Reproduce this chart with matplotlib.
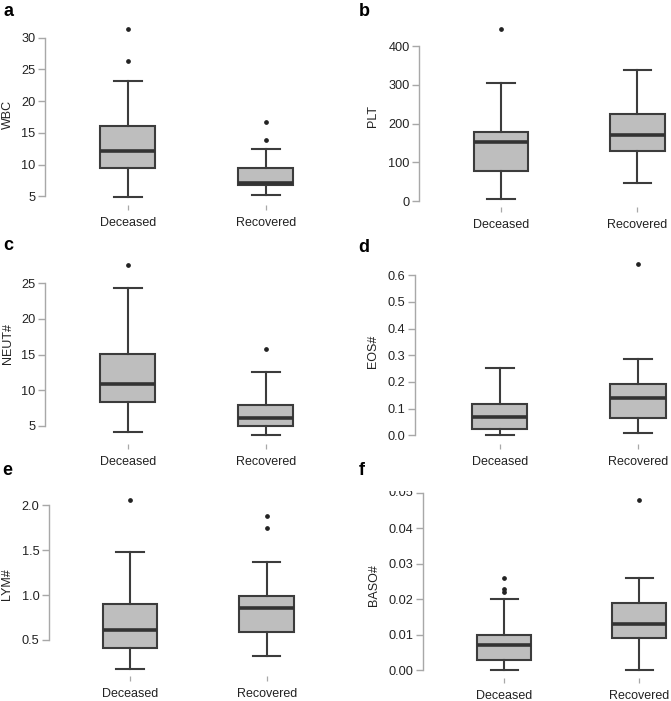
import matplotlib
matplotlib.use("Agg")
import matplotlib.pyplot as plt
from matplotlib.transforms import Bbox, TransformedBbox, offset_copy

plt.rcParams['font.family'] = ['Liberation Sans', 'DejaVu Sans']

groups = ["Deceased", "Recovered"]

# ---- data: [Deceased, Recovered] five-number summaries and outliers ----
wbc_whislo = [4.9, 5.15]
wbc_q1 = [9.5, 6.8]
wbc_med = [12.2, 7.05]
wbc_q3 = [16.1, 9.45]
wbc_whishi = [23.2, 12.5]
wbc_fliers = [[26.3, 31.4], [13.8, 16.7]]
wbc_ticks = [5, 10, 15, 20, 25, 30]

plt_whislo = [6, 47]
plt_q1 = [77, 128]
plt_med = [152, 171]
plt_q3 = [178, 225]
plt_whishi = [306, 338]
plt_fliers = [[444], []]
plt_ticks = [0, 100, 200, 300, 400]

neut_whislo = [4.1, 3.7]
neut_q1 = [8.4, 4.95]
neut_med = [10.95, 6.1]
neut_q3 = [15.15, 7.95]
neut_whishi = [24.4, 12.5]
neut_fliers = [[27.6], [15.75]]
neut_ticks = [5, 10, 15, 20, 25]

eos_whislo = [0.0, 0.009]
eos_q1 = [0.022, 0.065]
eos_med = [0.069, 0.141]
eos_q3 = [0.118, 0.192]
eos_whishi = [0.253, 0.287]
eos_fliers = [[], [0.641]]
eos_ticks = [0.0, 0.1, 0.2, 0.3, 0.4, 0.5, 0.6]

lym_whislo = [0.18, 0.325]
lym_q1 = [0.41, 0.585]
lym_med = [0.615, 0.857]
lym_q3 = [0.9, 0.995]
lym_whishi = [1.475, 1.373]
lym_fliers = [[2.063], [1.744, 1.885]]
lym_ticks = [0.5, 1.0, 1.5, 2.0]

baso_whislo = [0.0, 0.0]
baso_q1 = [0.003, 0.009]
baso_med = [0.007, 0.013]
baso_q3 = [0.00995, 0.019]
baso_whishi = [0.020, 0.026]
baso_fliers = [[0.0221, 0.0229, 0.026], [0.048]]
baso_ticks = [0.00, 0.01, 0.02, 0.03, 0.04, 0.05]

W, H = 671, 701
fig = plt.figure(figsize=(W / 100, H / 100), dpi=100)

BOX_FILL = "#bebebe"
LINE = "#3c3c3c"
AXIS = "#a8a8a8"
TXT = "#222222"


def stats(wlo, q1, med, q3, whi, fl):
    return [dict(whislo=wlo[i], q1=q1[i], med=med[i], q3=q3[i], whishi=whi[i],
                 fliers=fl[i], label=groups[i]) for i in range(2)]


def panel(st, ticks, fmt, ylabel, letter, left, right, top, bottom,
          t_hi, t_lo, c1, c2, ylab_xy, letter_xy, clip_top=None):
    (v1, p1), (v2, p2) = t_hi, t_lo
    upp = (v1 - v2) / (p2 - p1)
    ymin = v2 - (bottom - p2) * upp
    ymax = v1 + (p1 - top) * upp
    dx = 1.0 / (c2 - c1)
    xmin = 1 - (c1 - left) * dx
    xmax = 2 + (right - c2) * dx
    ax = fig.add_axes([left / W, 1 - bottom / H, (right - left) / W, (bottom - top) / H])
    ax.patch.set_alpha(0)
    ax.bxp(st, positions=[1, 2], widths=0.4, capwidths=0.2, patch_artist=True,
           boxprops=dict(facecolor=BOX_FILL, edgecolor=LINE, linewidth=1.5),
           whiskerprops=dict(color=LINE, linewidth=1.5),
           capprops=dict(color=LINE, linewidth=1.5),
           medianprops=dict(color="#333333", linewidth=2.6, solid_capstyle='butt'),
           flierprops=dict(marker='o', markersize=2.4, markerfacecolor='#222222',
                           markeredgecolor='#222222', linestyle='none'))
    ax.set_xlim(xmin, xmax)
    ax.set_ylim(ymin, ymax)
    for s in ['top', 'right', 'bottom']:
        ax.spines[s].set_visible(False)
    ax.spines['left'].set_bounds(ticks[0], ticks[-1])
    ax.spines['left'].set_color(AXIS)
    ax.spines['left'].set_linewidth(1.0)
    ax.set_yticks(ticks)
    labels = [fmt.format(t) for t in ticks]
    if clip_top is not None:
        labels[-1] = ""
    ax.set_yticklabels(labels)
    ax.tick_params(axis='y', length=5, width=1.0, color=AXIS, labelcolor=TXT,
                   labelsize=9.2, pad=2)
    ax.set_xticks([1, 2])
    ax.set_xticklabels(groups)
    ax.tick_params(axis='x', length=3.8, width=0.9, color=AXIS, labelcolor=TXT,
                   labelsize=9, pad=5)
    if clip_top is not None:
        tr = offset_copy(ax.get_yaxis_transform(), fig=fig, x=-7 * 0.72 - 2, units='points')
        t = ax.text(0, ticks[-1], fmt.format(ticks[-1]), transform=tr, ha='right',
                    va='center', fontsize=9.2, color=TXT, clip_on=True)
        t.set_clip_box(TransformedBbox(Bbox([[0, 0], [1, 1 - clip_top / H]]), fig.transFigure))
    fig.text(ylab_xy[0] / W, 1 - ylab_xy[1] / H, ylabel, rotation=90, ha='center',
             va='center', fontsize=9, color=TXT)
    fig.text(letter_xy[0] / W, 1 - letter_xy[1] / H, letter, ha='center', va='baseline',
             fontsize=13, fontweight='bold', color='black')
    return ax


panel(stats(wbc_whislo, wbc_q1, wbc_med, wbc_q3, wbc_whishi, wbc_fliers), wbc_ticks, "{:d}",
      "WBC", "a", 45, 320, 22, 205, (30, 37.7), (5, 196.3), 127.7, 265.7, (8, 114), (8, 16))
panel(stats(plt_whislo, plt_q1, plt_med, plt_q3, plt_whishi, plt_fliers), plt_ticks, "{:d}",
      "PLT", "b", 419.3, 671, 22, 207, (400, 46.3), (0, 201), 501, 637.3, (373, 116), (364, 16))
panel(stats(neut_whislo, neut_q1, neut_med, neut_q3, neut_whishi, neut_fliers), neut_ticks, "{:d}",
      "NEUT#", "c", 45, 320, 258, 444, (25, 283.3), (5, 426), 127.7, 265.7, (8, 344), (8, 250))
panel(stats(eos_whislo, eos_q1, eos_med, eos_q3, eos_whishi, eos_fliers), eos_ticks, "{:.1f}",
      "EOS#", "d", 415, 671, 258, 444, (0.6, 275.3), (0.0, 435.3), 499.7, 638, (373, 351), (364, 252))
panel(stats(lym_whislo, lym_q1, lym_med, lym_q3, lym_whishi, lym_fliers), lym_ticks, "{:.1f}",
      "LYM#", "e", 49.3, 320, 490, 676, (2.0, 505.3), (0.5, 640), 130, 266.7, (7, 584), (7, 475))
panel(stats(baso_whislo, baso_q1, baso_med, baso_q3, baso_whishi, baso_fliers), baso_ticks, "{:.2f}",
      "BASO#", "f", 423.3, 671, 490, 678, (0.04, 528.3), (0.00, 670.3), 504.3, 639.3, (374, 585), (362, 475),
      clip_top=491)

fig.savefig("out.png", dpi=100)
